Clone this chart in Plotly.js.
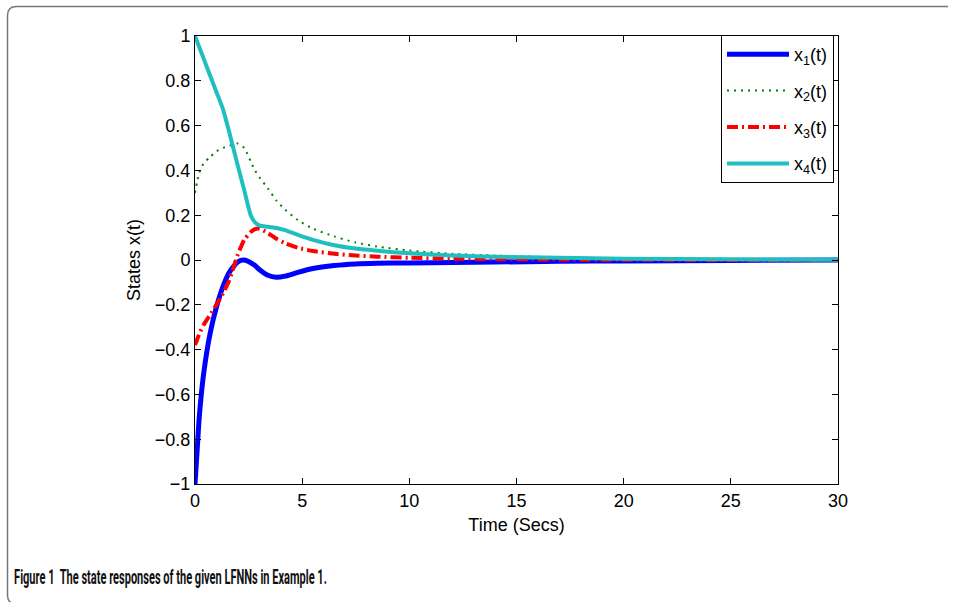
<!DOCTYPE html>
<html>
<head>
<meta charset="utf-8">
<script src="https://cdn.plot.ly/plotly-3.0.1.min.js"></script>
<style>
html,body{margin:0;padding:0;background:#fff;}
#chart{width:955px;height:602px;}
</style>
</head>
<body>
<div id="chart"></div>
<script>
// Time samples (seconds)
const timeSecs = [0,0.1,0.2,0.4,0.7,1.0,1.3,1.6,2.0,2.3,2.6,2.8,3.0,3.4,3.8,4.2,4.8,5.5,6.5,7.5,8.5,10,12,14,17,20,25,30];
// State trajectories
const x1 = [-1.0,-0.85,-0.70,-0.51,-0.33,-0.21,-0.12,-0.055,-0.008,0.0,-0.012,-0.025,-0.042,-0.068,-0.077,-0.072,-0.055,-0.038,-0.025,-0.018,-0.015,-0.013,-0.011,-0.009,-0.006,-0.004,-0.002,0.0];
const x2 = [0.30,0.35,0.39,0.43,0.46,0.485,0.50,0.51,0.52,0.50,0.44,0.40,0.37,0.32,0.265,0.225,0.178,0.14,0.105,0.078,0.06,0.042,0.028,0.02,0.012,0.007,0.003,0.001];
const x3 = [-0.38,-0.355,-0.33,-0.29,-0.245,-0.20,-0.15,-0.09,0.025,0.09,0.125,0.138,0.14,0.12,0.095,0.075,0.055,0.04,0.028,0.02,0.015,0.01,0.006,0.004,0.002,0.001,0.0,0.0];
const x4 = [1.0,0.975,0.95,0.90,0.825,0.75,0.675,0.57,0.42,0.31,0.20,0.168,0.155,0.148,0.143,0.133,0.112,0.09,0.066,0.051,0.041,0.03,0.02,0.015,0.01,0.006,0.003,0.001];
const seriesNames = ['x<sub>1</sub>(t)','x<sub>2</sub>(t)','x<sub>3</sub>(t)','x<sub>4</sub>(t)'];
const xTicks = [0,5,10,15,20,25,30];
const yTicks = [-1,-0.8,-0.6,-0.4,-0.2,0,0.2,0.4,0.6,0.8,1];
const captionText = 'Figure 1  The state responses of the given LFNNs in Example 1.';

const W = 955, H = 602;
const M = {l:195, r:117, t:36, b:118};
const pw = W - M.l - M.r, ph = H - M.t - M.b;
const px = x => (x - M.l) / pw;
const py = y => (H - M.b - y) / ph;

const traces = [
  {x: timeSecs, y: x1, name: seriesNames[0], mode:'lines', legendgroup:'a',
   line:{color:'#0000ff', width:5, shape:'spline', smoothing:0.6}},
  {x: timeSecs, y: x2, name: seriesNames[1], mode:'lines', legendgroup:'b',
   line:{color:'#008000', width:2, dash:'2px,5px', shape:'spline', smoothing:0.6}},
  {x: timeSecs, y: x3, name: seriesNames[2], mode:'lines', legendgroup:'c',
   line:{color:'#ff0000', width:4, dash:'11px,4px,2px,4px', shape:'spline', smoothing:0.6}},
  {x: timeSecs, y: x4, name: seriesNames[3], mode:'lines', legendgroup:'d',
   line:{color:'#1fbfbf', width:4, shape:'spline', smoothing:0.6}}
];

// rounded frame path (pixel -> paper)
const fL=7.5, fT=6.5, fR=948, fB=604, rad=9;
const framePath = 'M' + px(fR) + ',' + py(fT) +
  ' L' + px(fL+rad) + ',' + py(fT) +
  ' Q' + px(fL) + ',' + py(fT) + ' ' + px(fL) + ',' + py(fT+rad) +
  ' L' + px(fL) + ',' + py(fB-rad) +
  ' Q' + px(fL) + ',' + py(fB) + ' ' + px(fL+rad) + ',' + py(fB) +
  ' L' + px(fR) + ',' + py(fB);

const FONT = '"Liberation Sans", Arial, sans-serif';
const axisCommon = {
  showline:true, linecolor:'#000', linewidth:1, mirror:'ticks',
  ticks:'inside', ticklen:6, tickcolor:'#000', tickwidth:1,
  showgrid:false, zeroline:false,
  tickfont:{family:FONT, size:18, color:'#000'}
};

const layout = {
  width:W, height:H,
  margin:M,
  paper_bgcolor:'#fff', plot_bgcolor:'#fff',
  font:{family:FONT, color:'#000'},
  xaxis:Object.assign({}, axisCommon, {
    range:[0,30], tickvals:xTicks,
    title:{text:'Time (Secs)', font:{family:FONT, size:18}, standoff:8}
  }),
  yaxis:Object.assign({}, axisCommon, {
    range:[-1,1], tickvals:yTicks,
    title:{text:'States x(t)', font:{family:FONT, size:18}, standoff:9}
  }),
  showlegend:true,
  legend:{
    x:px(721), y:py(35), xanchor:'left', yanchor:'top',
    bgcolor:'#fff', bordercolor:'#000', borderwidth:1,
    font:{family:FONT, size:18, color:'#000'},
    itemwidth:62, tracegroupgap:10
  },
  shapes:[{type:'path', xref:'paper', yref:'paper', path:framePath,
           line:{color:'#777', width:1.5}, layer:'below'}],
  annotations:[{
    xref:'paper', yref:'paper', x:px(12), y:py(577), xanchor:'left', yanchor:'middle',
    showarrow:false,
    text:'<b>' + captionText + '</b>',
    font:{family:'Roboto, sans-serif', size:20, color:'#111'}
  }]
};

Plotly.newPlot('chart', traces, layout, {displayModeBar:false, staticPlot:true}).then(function(gd){
  // condense the caption horizontally to match the narrow caption face
  const t = gd.querySelector('.annotation-text');
  if (t) {
    const bb = t.getBBox();
    const target = 313;
    const s = Math.min(1, target / bb.width);
    const x0 = bb.x;
    t.setAttribute('transform', 'translate(' + x0 + ',0) scale(' + s + ',1) translate(' + (-x0) + ',0)');
  }
});
</script>
</body>
</html>
